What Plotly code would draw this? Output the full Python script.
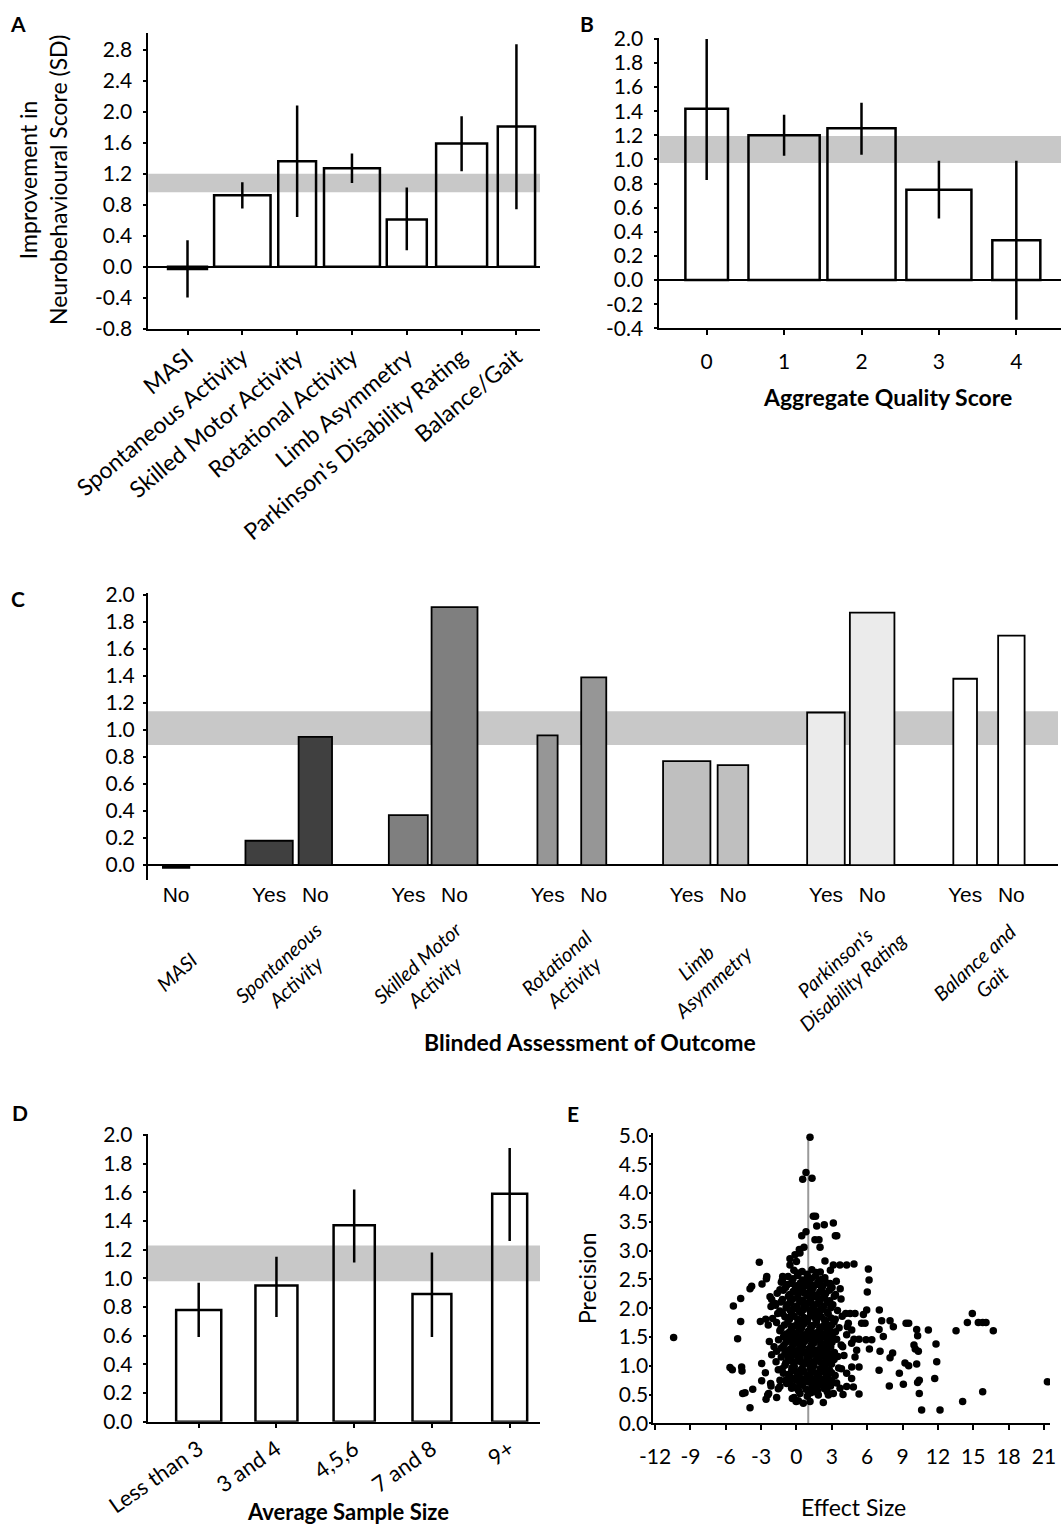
import plotly.graph_objects as go

W, H = 1061, 1526
FONT = "Lato"

# ---------------- Panel A: improvement by outcome measure ----------------
a_measures = ["MASI", "Spontaneous Activity", "Skilled Motor Activity", "Rotational Activity",
              "Limb Asymmetry", "Parkinson's Disability Rating", "Balance/Gait"]
a_effect = [-0.03, 0.92, 1.36, 1.27, 0.61, 1.59, 1.81]
a_ci_low = [-0.40, 0.75, 0.64, 1.08, 0.21, 1.23, 0.74]
a_ci_high = [0.34, 1.09, 2.08, 1.46, 1.02, 1.94, 2.87]
a_pooled_band = [0.96, 1.20]
a_yticks = [-0.8, -0.4, 0.0, 0.4, 0.8, 1.2, 1.6, 2.0, 2.4, 2.8]

# ---------------- Panel B: aggregate quality score ----------------
b_quality = ["0", "1", "2", "3", "4"]
b_effect = [1.42, 1.20, 1.26, 0.75, 0.33]
b_ci_low = [0.83, 1.03, 1.04, 0.51, -0.33]
b_ci_high = [2.00, 1.37, 1.47, 0.99, 0.99]
b_pooled_band = [0.97, 1.195]
b_yticks = [-0.4, -0.2, 0.0, 0.2, 0.4, 0.6, 0.8, 1.0, 1.2, 1.4, 1.6, 1.8, 2.0]

# ---------------- Panel C: blinded assessment of outcome ----------------
c_measures = ["MASI", "Spontaneous<br>Activity", "Skilled Motor<br>Activity", "Rotational<br>Activity",
              "Limb<br>Asymmetry", "Parkinson's<br>Disability Rating", "Balance and<br>Gait"]
c_blinded_yes = [None, 0.18, 0.37, 0.96, 0.77, 1.13, 1.38]
c_blinded_no = [-0.02, 0.95, 1.91, 1.39, 0.74, 1.87, 1.70]
c_pooled_band = [0.89, 1.14]
c_yticks = [0.0, 0.2, 0.4, 0.6, 0.8, 1.0, 1.2, 1.4, 1.6, 1.8, 2.0]

# ---------------- Panel D: average sample size ----------------
d_sizes = ["Less than 3", "3 and 4", "4,5,6", "7 and 8", "9+"]
d_effect = [0.78, 0.95, 1.37, 0.89, 1.59]
d_ci_low = [0.59, 0.73, 1.11, 0.59, 1.26]
d_ci_high = [0.97, 1.15, 1.62, 1.18, 1.91]
d_pooled_band = [0.98, 1.23]
d_yticks = [0.0, 0.2, 0.4, 0.6, 0.8, 1.0, 1.2, 1.4, 1.6, 1.8, 2.0]

# ---------------- Panel E: funnel plot (effect size, precision) ----------------
e_pooled_effect = 1.0
e_xticks = [-12, -9, -6, -3, 0, 3, 6, 9, 12, 15, 18, 21]
e_yticks = [0.0, 0.5, 1.0, 1.5, 2.0, 2.5, 3.0, 3.5, 4.0, 4.5, 5.0]

e_left_studies = [
    (-10.42, 1.49), (-5.35, 2.04), (-4.73, 2.17), (-4.73, 1.77), (-4.99, 1.47), (-5.64, 0.97),
    (-5.44, 0.93), (-4.65, 0.98), (-4.62, 0.91), (-4.56, 0.52), (-4.36, 0.53), (-3.94, 0.27),
    (-3.71, 0.59), (-3.94, 2.34), (-3.80, 2.38), (-3.15, 2.80), (-2.92, 2.42), (-2.55, 2.51),
    (-3.06, 1.77), (-2.61, 1.81), (-2.95, 1.04), (-2.95, 0.74), (-2.64, 0.88), (-2.58, 0.42),
    (-2.44, 0.49), (-2.36, 0.52), (-2.19, 0.69), (-2.16, 0.65), (-1.68, 0.45), (-1.54, 0.60),
    (-1.40, 0.64), (-2.24, 2.20), (-2.10, 2.15), (-1.82, 2.08), (-2.16, 2.03), (-1.40, 2.32),
    (-0.83, 2.40), (-2.39, 1.71), (-2.02, 1.82), (-1.59, 1.91), (-2.30, 1.42), (-1.90, 1.33),
    (-2.10, 1.19), (-1.68, 1.25), (-1.73, 1.07), (-1.54, 0.93), (-1.11, 0.87), (-1.40, 0.75),
    (-0.83, 0.69), (-0.41, 0.61), (-1.20, 2.49), (-2.52, 2.55),
]

e_upper_studies = [
    (1.15, 4.97), (0.81, 4.36), (0.53, 4.24), (1.32, 4.26), (1.43, 3.60), (1.62, 3.60),
    (1.72, 3.43), (2.36, 3.45), (3.13, 3.48), (3.30, 3.26), (3.42, 3.26), (0.81, 3.33),
    (0.45, 3.26), (1.57, 3.19), (1.91, 3.19), (2.00, 3.06), (0.24, 3.02), (0.64, 3.06),
    (-0.55, 2.86), (-0.12, 2.93), (0.30, 2.96), (-0.55, 2.75), (0.00, 2.81), (2.42, 2.82),
    (3.13, 2.75), (3.69, 2.75), (4.26, 2.75), (4.88, 2.77), (-1.17, 2.55), (2.85, 2.43),
]

e_right_studies = [
    (6.10, 2.68), (6.16, 2.49), (6.01, 2.28), (5.96, 1.97), (5.68, 1.89), (7.03, 1.97),
    (7.23, 1.78), (7.01, 1.63), (7.37, 1.51), (7.09, 1.25), (6.19, 1.29), (6.39, 1.45),
    (5.90, 1.45), (7.01, 0.92), (7.94, 1.78), (8.22, 1.68), (8.16, 1.22), (7.94, 1.14),
    (7.88, 0.65), (8.73, 0.87), (9.07, 0.68), (9.21, 1.05), (9.52, 1.00), (9.30, 1.74),
    (9.52, 1.74), (10.20, 1.63), (10.28, 1.52), (9.97, 1.36), (10.08, 1.29), (10.34, 1.25),
    (10.20, 1.03), (10.42, 0.75), (10.28, 0.71), (10.42, 0.52), (10.62, 0.23), (11.19, 1.62),
    (11.84, 1.38), (11.90, 1.07), (11.73, 0.78), (12.18, 0.23), (13.54, 1.61), (14.10, 0.38),
    (14.50, 1.75), (14.92, 1.91), (15.43, 1.75), (15.80, 1.75), (16.08, 1.75), (16.70, 1.61),
    (15.80, 0.55), (21.29, 0.72), (4.18, 1.91), (4.55, 1.91), (4.97, 1.91), (4.69, 1.62),
    (4.88, 1.46), (5.31, 1.46), (4.97, 1.15), (4.69, 0.98), (5.31, 0.98), (5.31, 0.51),
    (4.83, 0.63), (4.32, 1.68), (3.92, 1.33), (4.03, 1.18), (4.68, 0.78), (4.26, 0.87),
    (4.68, 1.39), (4.40, 1.74), (4.26, 1.54), (5.11, 1.27), (4.26, 0.64), (3.70, 0.61),
    (5.53, 1.74), (5.82, 1.74),
]

e_lower_studies = [
    (0.30, 0.52), (0.16, 0.39), (0.58, 0.35), (1.15, 0.38), (1.86, 0.49), (2.28, 0.36),
    (2.71, 0.49), (3.13, 0.52), (-0.20, 0.45), (0.92, 0.47), (1.48, 0.55), (2.38, 0.62),
    (3.41, 0.70), (3.82, 0.95), (3.95, 0.50), (-0.35, 0.43), (-0.03, 0.38), (1.21, 0.53),
]

e_core_studies = [
    (-0.22, 2.66), (0.48, 2.64), (1.31, 2.67), (2.02, 2.63), (2.88, 2.66),
    (-0.71, 2.55), (0.12, 2.57), (0.93, 2.54), (1.62, 2.56), (2.41, 2.53),
    (-1.28, 2.45), (-0.38, 2.46), (0.33, 2.44), (1.08, 2.47), (1.82, 2.45), (2.57, 2.44), (3.38, 2.47),
    (-0.92, 2.36), (-0.08, 2.34), (0.62, 2.37), (1.41, 2.35), (2.13, 2.33), (3.02, 2.36), (3.71, 2.34),
    (-1.63, 2.26), (-0.58, 2.24), (0.21, 2.27), (0.88, 2.25), (1.72, 2.23), (2.49, 2.26), (3.31, 2.24),
    (-1.19, 2.15), (-0.31, 2.16), (0.52, 2.14), (1.23, 2.17), (1.98, 2.15), (2.82, 2.13), (3.78, 2.16),
    (-1.77, 2.05), (-0.79, 2.06), (0.03, 2.04), (0.81, 2.07), (1.52, 2.05), (2.31, 2.03), (3.09, 2.06),
    (-1.41, 1.95), (-0.52, 1.96), (0.27, 1.94), (1.12, 1.97), (1.79, 1.95), (2.62, 1.93), (3.48, 1.96),
    (-0.98, 1.85), (-0.19, 1.86), (0.63, 1.84), (1.38, 1.87), (2.11, 1.85), (2.93, 1.83), (3.88, 1.86),
    (-1.69, 1.75), (-0.72, 1.76), (0.11, 1.74), (0.92, 1.77), (1.68, 1.75), (2.42, 1.73), (3.19, 1.76),
    (-1.31, 1.65), (-0.41, 1.66), (0.38, 1.64), (1.21, 1.67), (2.02, 1.65), (2.79, 1.63), (3.62, 1.66),
    (-0.88, 1.55), (-0.12, 1.56), (0.71, 1.54), (1.49, 1.57), (2.28, 1.55), (3.03, 1.53),
    (-1.52, 1.45), (-0.61, 1.46), (0.19, 1.44), (1.02, 1.47), (1.81, 1.45), (2.58, 1.43), (3.41, 1.46),
    (-1.08, 1.35), (-0.29, 1.36), (0.52, 1.34), (1.28, 1.37), (2.09, 1.35), (2.91, 1.33), (3.79, 1.36),
    (-0.81, 1.25), (0.02, 1.26), (0.79, 1.24), (1.61, 1.27), (2.38, 1.25), (3.22, 1.23),
    (-1.29, 1.15), (-0.49, 1.16), (0.31, 1.14), (1.09, 1.17), (1.91, 1.15), (2.68, 1.13), (3.51, 1.16),
    (-0.91, 1.05), (-0.18, 1.06), (0.61, 1.04), (1.42, 1.07), (2.19, 1.05), (2.98, 1.03),
    (-1.21, 0.95), (-0.39, 0.96), (0.42, 0.94), (1.18, 0.97), (2.01, 0.95), (2.79, 0.93), (3.58, 0.96),
    (-0.69, 0.85), (0.09, 0.86), (0.88, 0.84), (1.71, 0.87), (2.52, 0.85), (3.28, 0.83),
    (-0.92, 0.75), (-0.11, 0.76), (0.72, 0.74), (1.49, 0.77), (2.31, 0.75), (3.01, 0.73),
    (-0.28, 0.65), (0.51, 0.66), (1.32, 0.64), (2.12, 0.67), (2.89, 0.65),
    (0.19, 0.56), (1.02, 0.55), (1.81, 0.57), (2.61, 0.55),
]

e_dense_centre = [
    (0.08, 2.61), (0.91, 2.59), (1.69, 2.62),
    (-0.29, 2.51), (0.52, 2.49), (1.28, 2.52), (2.11, 2.50),
    (-0.81, 2.41), (0.02, 2.39), (0.71, 2.42), (1.52, 2.40), (2.22, 2.38), (2.88, 2.41),
    (-1.12, 2.31), (-0.28, 2.29), (0.49, 2.32), (1.19, 2.30), (1.98, 2.28), (2.79, 2.31),
    (-0.68, 2.21), (0.12, 2.19), (0.92, 2.22), (1.61, 2.20), (2.39, 2.18), (3.21, 2.21),
    (-1.31, 2.11), (-0.49, 2.09), (0.29, 2.12), (1.02, 2.10), (1.78, 2.08), (2.61, 2.11),
    (-0.88, 2.01), (-0.09, 1.99), (0.62, 2.02), (1.39, 2.00), (2.12, 1.98), (2.91, 2.01),
    (-1.18, 1.91), (-0.41, 1.89), (0.39, 1.92), (1.21, 1.90), (1.92, 1.88), (2.69, 1.91),
    (-0.59, 1.81), (0.22, 1.79), (0.98, 1.82), (1.72, 1.80), (2.48, 1.78), (3.29, 1.81),
    (-1.02, 1.71), (-0.18, 1.69), (0.61, 1.72), (1.38, 1.70), (2.21, 1.68), (2.98, 1.71),
    (-1.41, 1.61), (-0.58, 1.59), (0.21, 1.62), (0.99, 1.60), (1.81, 1.58), (2.59, 1.61), (3.31, 1.59),
    (-1.09, 1.51), (-0.31, 1.49), (0.48, 1.52), (1.29, 1.50), (2.02, 1.48), (2.81, 1.51),
    (-0.89, 1.41), (-0.08, 1.39), (0.69, 1.42), (1.51, 1.40), (2.29, 1.38), (3.02, 1.41),
    (-1.28, 1.31), (-0.52, 1.29), (0.31, 1.32), (1.08, 1.30), (1.88, 1.28), (2.62, 1.31),
    (-0.98, 1.21), (-0.21, 1.19), (0.58, 1.22), (1.42, 1.20), (2.19, 1.18), (2.92, 1.21),
    (-0.71, 1.11), (0.12, 1.09), (0.89, 1.12), (1.69, 1.10), (2.52, 1.08), (3.19, 1.11),
    (-0.98, 1.01), (-0.19, 0.99), (0.62, 1.02), (1.48, 1.00), (2.41, 0.98),
    (-0.41, 0.91), (0.38, 0.89), (1.22, 0.92), (2.09, 0.90), (2.98, 0.88),
    (-0.52, 0.81), (0.29, 0.79), (1.11, 0.82), (1.89, 0.80), (2.71, 0.78),
    (-0.61, 0.71), (0.28, 0.69), (0.98, 0.72), (1.79, 0.70), (2.59, 0.68),
    (0.02, 0.61), (0.81, 0.59), (1.62, 0.62), (2.39, 0.60),
]

e_inner_core = [
    (-0.41, 2.43), (0.38, 2.40), (1.12, 2.38), (1.88, 2.41),
    (-0.21, 2.28), (0.69, 2.26), (1.41, 2.24), (2.22, 2.27),
    (-0.51, 2.13), (0.31, 2.11), (1.21, 2.09), (1.99, 2.12), (2.71, 2.10),
    (-0.29, 1.98), (0.52, 1.96), (1.29, 1.94), (2.08, 1.97),
    (-0.71, 1.83), (0.12, 1.81), (0.82, 1.79), (1.62, 1.82), (2.38, 1.80),
    (-0.39, 1.68), (0.42, 1.66), (1.19, 1.64), (1.98, 1.67), (2.71, 1.65),
    (-0.69, 1.53), (0.09, 1.51), (0.89, 1.49), (1.71, 1.52), (2.49, 1.50),
    (-0.31, 1.38), (0.48, 1.36), (1.28, 1.34), (2.09, 1.37), (2.81, 1.35),
    (-0.58, 1.23), (0.22, 1.21), (1.01, 1.19), (1.81, 1.22), (2.61, 1.20),
    (-0.39, 1.08), (0.41, 1.06), (1.19, 1.04), (1.99, 1.07), (2.72, 1.05),
    (-0.18, 0.93), (0.62, 0.91), (1.42, 0.89), (2.29, 0.92),
    (-0.29, 0.78), (0.52, 0.76), (1.31, 0.74), (2.12, 0.77),
]

# ---------------- helpers ----------------
def px_x(p):
    return p / W


def px_y(p):
    return 1 - p / H


def tick_text(vals):
    return ["%.1f" % v for v in vals]


BAND = "#c8c8c8"
AX = dict(showline=True, linecolor="black", linewidth=2, showgrid=False, zeroline=False,
          automargin=False, ticks="outside", tickcolor="black", tickwidth=2, ticklen=3,
          tickfont=dict(family=FONT, size=21, color="black"))

fig = go.Figure()


def bar_with_ci(x, y, lo, hi, widths, xa, ya):
    fig.add_trace(go.Bar(
        x=x, y=y, width=widths, xaxis=xa, yaxis=ya,
        marker=dict(color="rgba(0,0,0,0)", line=dict(color="black", width=2.5)),
        error_y=dict(type="data", symmetric=False,
                     array=[h - v for v, h in zip(y, hi)],
                     arrayminus=[v - l for v, l in zip(y, lo)],
                     color="black", thickness=2.5, width=0),
        showlegend=False, hoverinfo="skip"))


# Bar widths are drawing styles (fraction of the category slot)
bar_with_ci(a_measures, a_effect, a_ci_low, a_ci_high,
            [0.71, 1.03, 0.69, 1.02, 0.73, 0.93, 0.68], "x", "y")
bar_with_ci(b_quality, b_effect, b_ci_low, b_ci_high,
            [0.55, 0.92, 0.88, 0.84, 0.62], "x2", "y2")
bar_with_ci(d_sizes, d_effect, d_ci_low, d_ci_high,
            [0.58, 0.54, 0.53, 0.50, 0.45], "x4", "y4")

# Panel C: grouped Yes/No bars, group g centred at g
c_offset = 0.166
c_fill = ["#000000", "#404040", "#7f7f7f", "#969696", "#bfbfbf", "#ebebeb", "#ffffff"]
c_yes_width = [0.0, 0.34, 0.28, 0.145, 0.34, 0.27, 0.17]
c_no_width = [0.19, 0.24, 0.33, 0.18, 0.22, 0.32, 0.19]

yes_idx = [i for i, v in enumerate(c_blinded_yes) if v is not None]
fig.add_trace(go.Bar(
    x=[i - c_offset for i in yes_idx], y=[c_blinded_yes[i] for i in yes_idx],
    width=[c_yes_width[i] for i in yes_idx], xaxis="x3", yaxis="y3",
    marker=dict(color=[c_fill[i] for i in yes_idx], line=dict(color="black", width=1.8)),
    showlegend=False, hoverinfo="skip"))
fig.add_trace(go.Bar(
    x=[i + c_offset for i in range(len(c_blinded_no))], y=c_blinded_no,
    width=c_no_width, xaxis="x3", yaxis="y3",
    marker=dict(color=c_fill, line=dict(color="black", width=1.8)),
    showlegend=False, hoverinfo="skip"))

c_tickvals = [i - c_offset for i in yes_idx] + [i + c_offset for i in range(len(c_blinded_no))]
c_ticktext = ["Yes"] * len(yes_idx) + ["No"] * len(c_blinded_no)

# Panel E: pooled-effect reference line and study points
e_points = (e_left_studies + e_upper_studies + e_right_studies + e_lower_studies
            + e_core_studies + e_dense_centre + e_inner_core)
fig.add_trace(go.Scatter(
    x=[e_pooled_effect, e_pooled_effect], y=[0, 5.0], mode="lines", xaxis="x5", yaxis="y5",
    line=dict(color="#9a9a9a", width=2), showlegend=False, hoverinfo="skip"))
fig.add_trace(go.Scatter(
    x=[p[0] for p in e_points], y=[p[1] for p in e_points], mode="markers",
    xaxis="x5", yaxis="y5", marker=dict(color="black", size=7.5),
    showlegend=False, hoverinfo="skip"))

# ---------------- pooled 95% CI bands ----------------
shapes = []
for xa, ya, band in [("x", "y", a_pooled_band), ("x2", "y2", b_pooled_band),
                     ("x3", "y3", c_pooled_band), ("x4", "y4", d_pooled_band)]:
    shapes.append(dict(type="rect", xref=xa + " domain", yref=ya, x0=0, x1=1,
                       y0=band[0], y1=band[1], fillcolor=BAND, line=dict(width=0),
                       layer="below"))

# ---------------- axes ----------------
layout_axes = dict(
    xaxis=dict(AX, domain=[px_x(148.3), px_x(540)], anchor="y", type="category",
               range=[-0.715, 6.43], tickangle=-40, ticklen=4,
               tickfont=dict(family=FONT, size=23, color="black")),
    yaxis=dict(AX, domain=[px_y(328.6), px_y(32.7)], anchor="x", range=[-0.8, 3.02],
               tickvals=a_yticks, ticktext=tick_text(a_yticks), ticklabelstandoff=7,
               zeroline=True, zerolinecolor="black", zerolinewidth=2),
    xaxis2=dict(AX, domain=[px_x(659.3), 1.0], anchor="y2", type="category",
                range=[-0.612, 4.577], ticklen=5, ticklabelstandoff=8),
    yaxis2=dict(AX, domain=[px_y(328.3), px_y(38.3)], anchor="x2", range=[-0.4, 2.005],
                tickvals=b_yticks, ticktext=tick_text(b_yticks), ticklabelstandoff=7,
                zeroline=True, zerolinecolor="black", zerolinewidth=2),
    xaxis3=dict(AX, domain=[px_x(148), px_x(1058)], anchor="y3", range=[-0.036, 6.501],
                showline=False, ticks="", tickvals=c_tickvals, ticktext=c_ticktext,
                tickfont=dict(family="Liberation Sans", size=21, color="black")),
    yaxis3=dict(AX, domain=[px_y(879.9), px_y(593)], anchor="x3", range=[-0.11, 2.015],
                tickvals=c_yticks, ticktext=tick_text(c_yticks), ticklabelstandoff=4,
                zeroline=True, zerolinecolor="black", zerolinewidth=2),
    xaxis4=dict(AX, domain=[px_x(147.7), px_x(540)], anchor="y4", type="category",
                range=[-0.656, 4.39], tickangle=-35, ticklen=4,
                tickfont=dict(family=FONT, size=22, color="black")),
    yaxis4=dict(AX, domain=[px_y(1421.7), px_y(1134)], anchor="x4", range=[0, 2.007],
                tickvals=d_yticks, ticktext=tick_text(d_yticks), ticklabelstandoff=6),
    xaxis5=dict(AX, domain=[px_x(653.3), px_x(1050)], anchor="y5", range=[-12.144, 21.51],
                tickvals=e_xticks, ticktext=[str(v) for v in e_xticks], ticklen=5,
                ticklabelstandoff=8),
    yaxis5=dict(AX, domain=[px_y(1423.3), px_y(1132.7)], anchor="x5", range=[0, 5.05],
                tickvals=e_yticks, ticktext=tick_text(e_yticks), ticklen=2,
                ticklabelstandoff=-3),
)

# ---------------- text ----------------
def note(text, x, y, size=20, angle=0, xanchor="center", yanchor="middle", family=FONT):
    return dict(text=text, x=px_x(x), y=px_y(y), xref="paper", yref="paper",
                showarrow=False, textangle=angle, xanchor=xanchor, yanchor=yanchor,
                font=dict(family=family, size=size, color="black"))


annotations = [
    note("<b>A</b>", 18, 23, 21), note("<b>B</b>", 587, 23, 21), note("<b>C</b>", 18, 598, 21),
    note("<b>D</b>", 20, 1112, 21), note("<b>E</b>", 573, 1113, 21),
    note("Improvement in<br>Neurobehavioural Score (SD)", 43, 180, 23, angle=-90),
    note("<b>Aggregate Quality Score</b>", 887, 397, 23),
    note("<b>Blinded Assessment of Outcome</b>", 590, 1042, 23),
    note("<b>Average Sample Size</b>", 348, 1511, 22),
    note("Precision", 587, 1278, 23, angle=-90),
    note("Effect Size", 853, 1507, 23),
]
for i, label in enumerate(c_measures):
    annotations.append(dict(text="<i>" + label + "</i>", x=i + (c_offset if i == 0 else -0.04),
                            y=px_y(972), xref="x3", yref="paper", showarrow=False,
                            textangle=-42, xanchor="center", yanchor="middle",
                            font=dict(family=FONT, size=20, color="black")))

fig.update_layout(
    template="none",
    width=W, height=H, margin=dict(l=0, r=0, t=0, b=0, autoexpand=False),
    paper_bgcolor="white", plot_bgcolor="rgba(0,0,0,0)",
    barmode="overlay", showlegend=False,
    shapes=shapes, annotations=annotations, **layout_axes)

fig.write_html("out.html")
